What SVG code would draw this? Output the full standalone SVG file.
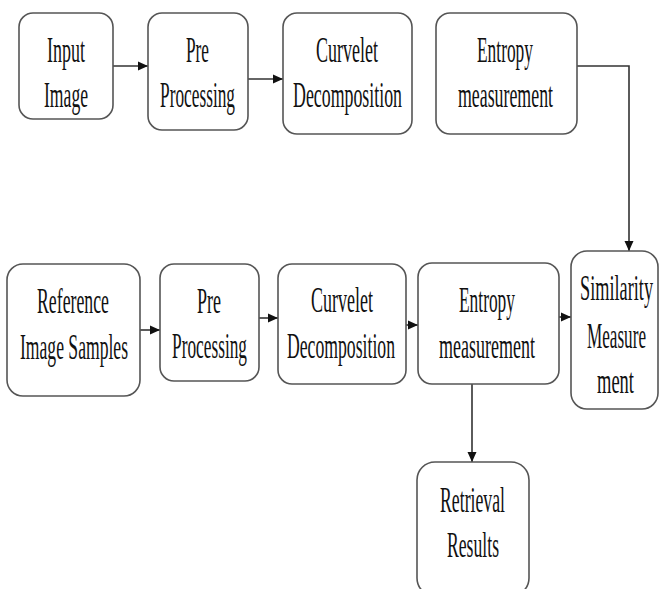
<svg xmlns="http://www.w3.org/2000/svg" width="659" height="589" viewBox="0 0 659 589">
<style>
.box{fill:#fff;stroke:#555;stroke-width:1.6}
.t{font-family:"Liberation Serif","Times New Roman",serif;font-size:36px;fill:#111;text-anchor:start}
.c{fill:none;stroke:#333;stroke-width:1.6}
</style>
<defs>
<marker id="ah" markerUnits="userSpaceOnUse" markerWidth="10" markerHeight="10" viewBox="0 0 10 10" refX="10" refY="5" orient="auto">
<path d="M0,0.5 L10,5 L0,9.5 Z" fill="#111"/>
</marker>
</defs>
<rect width="659" height="589" fill="#fff"/>
<g id="connectors">
<path class="c" d="M113,66 H148" marker-end="url(#ah)"/>
<path class="c" d="M248,79 H283" marker-end="url(#ah)"/>
<path class="c" d="M577,66 H629 V251" marker-end="url(#ah)"/>
<path class="c" d="M140,330 H160" marker-end="url(#ah)"/>
<path class="c" d="M259,318 H278" marker-end="url(#ah)"/>
<path class="c" d="M406,325 H418" marker-end="url(#ah)"/>
<path class="c" d="M559,317 H571" marker-end="url(#ah)"/>
<path class="c" d="M472,384 V462" marker-end="url(#ah)"/>
</g>
<g id="input-image">
<rect class="box" x="19" y="13" width="94" height="106" rx="14"/>
<text class="t" x="47" y="62" textLength="38" lengthAdjust="spacingAndGlyphs">Input</text>
<text class="t" x="44" y="107" textLength="44" lengthAdjust="spacingAndGlyphs">Image</text>
</g>
<g id="pre-processing-1">
<rect class="box" x="148" y="13" width="100" height="117" rx="14"/>
<text class="t" x="186" y="62" textLength="23" lengthAdjust="spacingAndGlyphs">Pre</text>
<text class="t" x="160" y="107" textLength="75" lengthAdjust="spacingAndGlyphs">Processing</text>
</g>
<g id="curvelet-1">
<rect class="box" x="283" y="13" width="129" height="121" rx="14"/>
<text class="t" x="316" y="62" textLength="62" lengthAdjust="spacingAndGlyphs">Curvelet</text>
<text class="t" x="293" y="107" textLength="109" lengthAdjust="spacingAndGlyphs">Decomposition</text>
</g>
<g id="entropy-1">
<rect class="box" x="436" y="13" width="141" height="121" rx="14"/>
<text class="t" x="477" y="62" textLength="56" lengthAdjust="spacingAndGlyphs">Entropy</text>
<text class="t" x="458" y="107" textLength="95" lengthAdjust="spacingAndGlyphs">measurement</text>
</g>
<g id="reference-samples">
<rect class="box" x="7" y="264" width="133" height="132" rx="16"/>
<text class="t" x="37" y="313" textLength="72" lengthAdjust="spacingAndGlyphs">Reference</text>
<text class="t" x="20" y="359" textLength="108" lengthAdjust="spacingAndGlyphs">Image Samples</text>
</g>
<g id="pre-processing-2">
<rect class="box" x="160" y="264" width="99" height="117" rx="14"/>
<text class="t" x="197" y="313" textLength="24" lengthAdjust="spacingAndGlyphs">Pre</text>
<text class="t" x="172" y="358" textLength="75" lengthAdjust="spacingAndGlyphs">Processing</text>
</g>
<g id="curvelet-2">
<rect class="box" x="278" y="264" width="128" height="120" rx="14"/>
<text class="t" x="311" y="312" textLength="62" lengthAdjust="spacingAndGlyphs">Curvelet</text>
<text class="t" x="287" y="358" textLength="108" lengthAdjust="spacingAndGlyphs">Decomposition</text>
</g>
<g id="entropy-2">
<rect class="box" x="418" y="263" width="141" height="121" rx="14"/>
<text class="t" x="459" y="312" textLength="56" lengthAdjust="spacingAndGlyphs">Entropy</text>
<text class="t" x="439" y="358" textLength="96" lengthAdjust="spacingAndGlyphs">measurement</text>
</g>
<g id="similarity">
<rect class="box" x="571" y="251" width="87" height="158" rx="16"/>
<text class="t" x="580" y="300" textLength="73" lengthAdjust="spacingAndGlyphs">Similarity</text>
<text class="t" x="587" y="348" textLength="59" lengthAdjust="spacingAndGlyphs">Measure</text>
<text class="t" x="597" y="393" textLength="37" lengthAdjust="spacingAndGlyphs">ment</text>
</g>
<g id="retrieval">
<rect class="box" x="417" y="462" width="112" height="134" rx="18"/>
<text class="t" x="440" y="512" textLength="65" lengthAdjust="spacingAndGlyphs">Retrieval</text>
<text class="t" x="447" y="557" textLength="52" lengthAdjust="spacingAndGlyphs">Results</text>
</g>
</svg>
